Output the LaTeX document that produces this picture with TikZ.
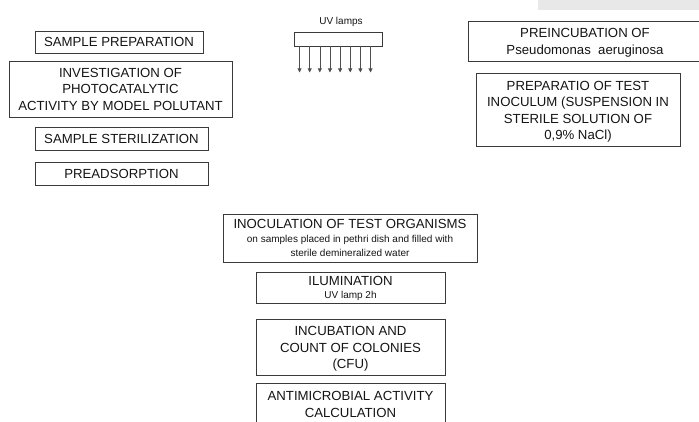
\documentclass[tikz,border=0pt]{standalone}
\usepackage{fontspec}
\setmainfont{Liberation Sans}
\usetikzlibrary{arrows.meta,calc}
\definecolor{boxline}{HTML}{3A3A3A}
\definecolor{txt}{HTML}{141414}
\definecolor{bandgrey}{HTML}{E8E8E8}
\newcommand\bigf{\fontsize{13.2}{16.5}\selectfont}
\newcommand\smf{\fontsize{10}{13}\selectfont}
\begin{document}
\begin{tikzpicture}[x=1pt,y=-1pt,
 box/.style={draw=boxline, line width=0.9pt, inner sep=0pt, align=center, text=txt, font=\bigf},
 lbl/.style={inner sep=0pt, align=center, text=txt, font=\bigf},
 frame/.style={draw=boxline, line width=0.9pt},
 ray/.style={draw=boxline!90, line width=0.6pt, -{Triangle[length=4pt,width=4pt]}}]
\useasboundingbox (0,0) rectangle (699,421);

\coordinate (bandL) at (538,5);
\coordinate (bandR) at (699,5);
\draw[bandgrey, line width=10pt] (bandL) -- (bandR);

\node[box, minimum width=168, minimum height=22] (prep) at (119,42) {SAMPLE PREPARATION};
\node[box, minimum width=223, minimum height=56] (inv) at (120.5,89) {INVESTIGATION OF\\PHOTOCATALYTIC\\ACTIVITY BY MODEL POLUTANT};
\node[box, minimum width=173, minimum height=23] (ster) at (121.5,138.5) {SAMPLE STERILIZATION};
\node[box, minimum width=173, minimum height=23] (pread) at (121.5,173.5) {PREADSORPTION};

\node[lbl, font=\smf] (uvl) at (341,22) {UV lamps};
\node[frame, minimum width=88, minimum height=14, inner sep=0pt] (lamp) at (338,39) {};
\foreach \i in {0,...,7} {
  \coordinate (s\i) at ($(lamp.south west)+(6+\i*10.14,0)$);
  \coordinate (t\i) at ($(s\i)+(0,26)$);
  \draw[ray] (s\i) -- (t\i);
}

\draw[frame] (699.5,21) -- (468,21) -- (468,61) -- (699.5,61);
\node[lbl] (preinc) at (585,43) {PREINCUBATION OF\\Pseudomonas\ \ aeruginosa};
\node[frame, minimum width=204, minimum height=73, inner sep=0pt] (inocbox) at (578,109.5) {};
\node[lbl] (inoc) at (578,112) {PREPARATIO OF TEST\\INOCULUM (SUSPENSION IN\\STERILE SOLUTION OF\\0,9\% NaCl)};

\node[box, minimum width=254, minimum height=48] (inocul) at (350,238) {{\bigf INOCULATION OF TEST ORGANISMS}\\[-3pt]{\smf on samples placed in pethri dish and filled with}\\[-2.5pt]{\smf sterile demineralized water}};
\node[box, minimum width=189, minimum height=31] (ilum) at (350.5,288) {ILUMINATION\\[-3.5pt]{\smf UV lamp 2h}};
\node[frame, minimum width=189, minimum height=56, inner sep=0pt] (incubbox) at (350.5,347) {};
\node[lbl] (incub) at (350.5,349) {INCUBATION AND\\COUNT OF COLONIES\\(CFU)};
\draw[frame] (256,422) -- (256,383) -- (445,383) -- (445,422);
\node[lbl] (anti) at (350.5,404.5) {ANTIMICROBIAL ACTIVITY\\CALCULATION};
\end{tikzpicture}
\end{document}
